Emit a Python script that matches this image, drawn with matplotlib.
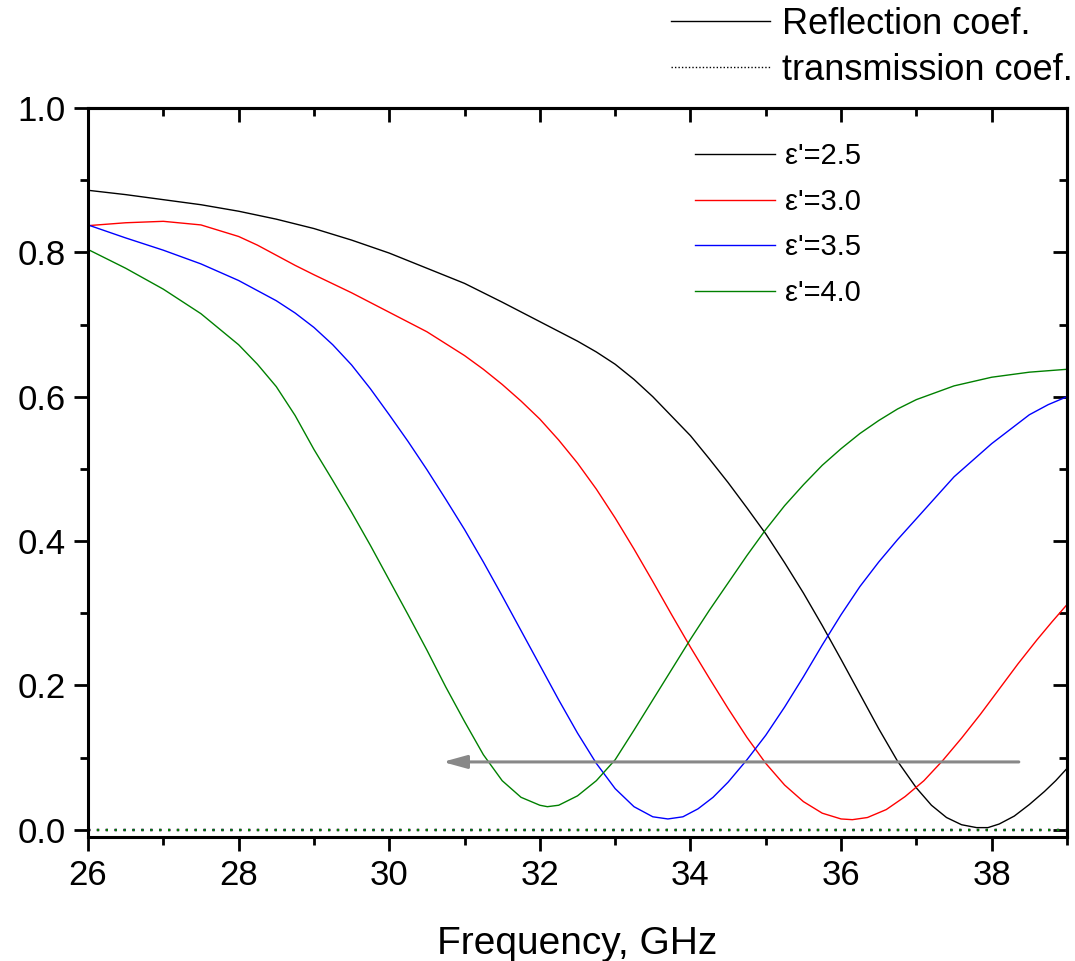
import matplotlib
matplotlib.use("Agg")
import matplotlib.pyplot as plt
from matplotlib.lines import Line2D
from matplotlib.ticker import MultipleLocator, FormatStrFormatter

plt.rcParams['font.family'] = ['Liberation Sans', 'DejaVu Sans']

# Reflection coefficient vs frequency (GHz) for four permittivities
f_25 = [26.0, 26.5, 27.0, 27.5, 28.0, 28.5, 29.0, 29.5, 30.0, 30.5, 31.0, 31.5, 32.0,
        32.5, 32.75, 33.0, 33.25, 33.5, 33.75, 34.0, 34.25, 34.5, 34.75, 35.0, 35.25,
        35.5, 35.75, 36.0, 36.25, 36.5, 36.75, 37.0, 37.2, 37.4, 37.6, 37.8, 37.95,
        38.1, 38.3, 38.5, 38.7, 38.85, 39.0]
r_25 = [0.886, 0.880, 0.873, 0.866, 0.857, 0.846, 0.833, 0.817, 0.799, 0.778, 0.757,
        0.731, 0.704, 0.677, 0.662, 0.645, 0.624, 0.600, 0.573, 0.546, 0.514, 0.481,
        0.446, 0.410, 0.370, 0.328, 0.283, 0.236, 0.188, 0.140, 0.095, 0.058, 0.034,
        0.017, 0.007, 0.003, 0.003, 0.008, 0.019, 0.035, 0.053, 0.068, 0.085]

f_30 = [26.0, 26.5, 27.0, 27.5, 28.0, 28.25, 28.5, 28.75, 29.0, 29.5, 30.0, 30.5, 31.0,
        31.25, 31.5, 31.75, 32.0, 32.25, 32.5, 32.75, 33.0, 33.25, 33.5, 33.75, 34.0,
        34.25, 34.5, 34.75, 35.0, 35.25, 35.5, 35.75, 36.0, 36.15, 36.35, 36.6, 36.85,
        37.1, 37.35, 37.6, 37.85, 38.1, 38.35, 38.6, 38.8, 39.0]
r_30 = [0.837, 0.841, 0.843, 0.838, 0.822, 0.810, 0.796, 0.782, 0.769, 0.744, 0.717,
        0.690, 0.657, 0.638, 0.617, 0.594, 0.569, 0.540, 0.508, 0.472, 0.432, 0.389,
        0.344, 0.298, 0.253, 0.210, 0.168, 0.128, 0.092, 0.062, 0.039, 0.023, 0.015,
        0.014, 0.017, 0.028, 0.046, 0.068, 0.096, 0.127, 0.160, 0.195, 0.230, 0.263,
        0.288, 0.312]

f_35 = [26.0, 26.5, 27.0, 27.5, 28.0, 28.5, 28.75, 29.0, 29.25, 29.5, 29.75, 30.0,
        30.25, 30.5, 30.75, 31.0, 31.25, 31.5, 31.75, 32.0, 32.25, 32.5, 32.75, 33.0,
        33.25, 33.5, 33.7, 33.9, 34.1, 34.3, 34.5, 34.75, 35.0, 35.25, 35.5, 35.75,
        36.0, 36.25, 36.5, 36.75, 37.0, 37.25, 37.5, 37.75, 38.0, 38.25, 38.5, 38.75,
        39.0]
r_35 = [0.838, 0.820, 0.803, 0.784, 0.761, 0.733, 0.716, 0.696, 0.672, 0.644, 0.611,
        0.575, 0.538, 0.499, 0.458, 0.416, 0.371, 0.324, 0.276, 0.228, 0.180, 0.134,
        0.092, 0.057, 0.032, 0.018, 0.015, 0.018, 0.029, 0.045, 0.066, 0.097, 0.131,
        0.170, 0.212, 0.256, 0.298, 0.337, 0.371, 0.402, 0.431, 0.460, 0.489, 0.512,
        0.535, 0.555, 0.575, 0.589, 0.600]

f_40 = [26.0, 26.5, 27.0, 27.5, 28.0, 28.25, 28.5, 28.75, 29.0, 29.25, 29.5, 29.75,
        30.0, 30.25, 30.5, 30.75, 31.0, 31.25, 31.5, 31.75, 32.0, 32.1, 32.25, 32.5,
        32.75, 33.0, 33.25, 33.5, 33.75, 34.0, 34.25, 34.5, 34.75, 35.0, 35.25, 35.5,
        35.75, 36.0, 36.25, 36.5, 36.75, 37.0, 37.5, 38.0, 38.5, 39.0]
r_40 = [0.804, 0.778, 0.749, 0.715, 0.672, 0.645, 0.614, 0.574, 0.527, 0.484, 0.440,
        0.394, 0.346, 0.298, 0.249, 0.198, 0.150, 0.104, 0.068, 0.045, 0.034, 0.032,
        0.034, 0.047, 0.068, 0.097, 0.138, 0.180, 0.222, 0.264, 0.304, 0.342, 0.380,
        0.416, 0.449, 0.478, 0.505, 0.528, 0.549, 0.567, 0.583, 0.596, 0.615, 0.627,
        0.634, 0.638]

# Transmission coefficient (zero across the band)
f_trans = [26.0, 39.0]
t_trans = [0.0, 0.0]

labels = ["ε'=2.5", "ε'=3.0", "ε'=3.5", "ε'=4.0"]
colors = ['black', 'red', 'blue', 'green']
freqs = [f_25, f_30, f_35, f_40]
refl = [r_25, r_30, r_35, r_40]

# Shift arrow: from high-frequency side toward lower frequencies
arrow_from = (38.36, 0.094)
arrow_to = (30.71, 0.094)

fig = plt.figure(figsize=(10.75, 9.61), dpi=100)
ax = fig.add_axes([88 / 1075, 1 - 837 / 961, (1067 - 88) / 1075, (837 - 108) / 961])

handles = []
for f, r, c, lab in zip(freqs, refl, colors, labels):
    h, = ax.plot(f, r, color=c, lw=1.0, label=lab)
    handles.append(h)
for c in colors:
    ax.plot(f_trans, t_trans, color=c, lw=1.6, linestyle=(0, (1, 3)))

ax.annotate('', xy=arrow_to, xytext=arrow_from,
            arrowprops=dict(arrowstyle='-|>,head_length=0.8,head_width=0.22',
                            color='#888888', lw=2.2, mutation_scale=18,
                            shrinkA=0, shrinkB=0))

ax.set_xlim(26, 39)
ax.set_ylim(-0.01, 1.0)
ax.xaxis.set_major_locator(MultipleLocator(2))
ax.xaxis.set_minor_locator(MultipleLocator(1))
ax.yaxis.set_major_locator(MultipleLocator(0.2))
ax.yaxis.set_minor_locator(MultipleLocator(0.1))
ax.yaxis.set_major_formatter(FormatStrFormatter('%.1f'))

for s in ax.spines.values():
    s.set_linewidth(2.2)

ax.tick_params(which='both', direction='out', width=2.0, labelsize=25,
               top=False, right=False)
ax.tick_params(which='major', length=10, pad=6)
ax.tick_params(which='minor', length=6)

# Inward ticks on top and right edges
axt = ax.secondary_xaxis('top')
axt.xaxis.set_major_locator(MultipleLocator(2))
axt.xaxis.set_minor_locator(MultipleLocator(1))
axt.tick_params(which='both', direction='in', width=2.0, labeltop=False)
axt.tick_params(which='major', length=10)
axt.tick_params(which='minor', length=6)
axt.spines['top'].set_linewidth(2.2)
axr = ax.secondary_yaxis('right')
axr.yaxis.set_major_locator(MultipleLocator(0.2))
axr.yaxis.set_minor_locator(MultipleLocator(0.1))
axr.tick_params(which='both', direction='in', width=2.0, labelright=False)
axr.tick_params(which='major', length=10)
axr.tick_params(which='minor', length=6)
axr.spines['right'].set_linewidth(2.2)

ax.set_xlabel('Frequency, GHz', fontsize=28, labelpad=24)

leg1 = ax.legend(handles=handles, loc='upper left', bbox_to_anchor=(0.620, 0.953),
                 frameon=False, fontsize=21, handlelength=2.75, handletextpad=0.34,
                 labelspacing=0.6, borderpad=0, borderaxespad=0)
ax.add_artist(leg1)

kind_handles = [Line2D([], [], color='black', lw=1.0),
                Line2D([], [], color='black', lw=1.0, linestyle=(0, (1, 1.5)))]
ax.legend(handles=kind_handles, labels=['Reflection coef.', 'transmission coef.'],
          loc='upper left', bbox_to_anchor=(0.595, 1.1385), frameon=False,
          fontsize=26, handlelength=2.75, handletextpad=0.33, labelspacing=0.3,
          borderpad=0, borderaxespad=0)

fig.savefig('out.png', dpi=100)
